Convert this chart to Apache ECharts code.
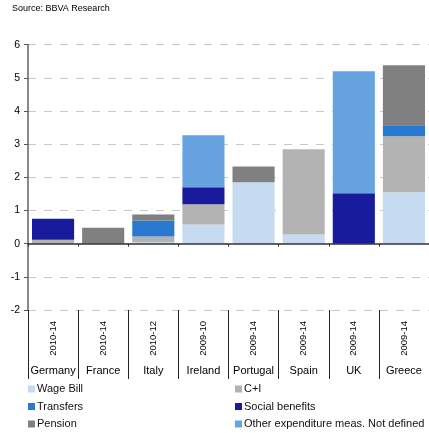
<!DOCTYPE html>
<html>
<head>
<meta charset="utf-8">
<script src="https://cdn.jsdelivr.net/npm/echarts@6/dist/echarts.min.js"></script>
<style>html,body{margin:0;padding:0;background:#fff}#c{width:429px;height:433px}</style>
</head>
<body>
<div id="c"></div>
<script>
var countries = ['Germany','France','Italy','Ireland','Portugal','Spain','UK','Greece'];
var periods = ['2010-14','2010-14','2010-12','2009-10','2009-14','2009-14','2009-14','2009-14'];
var yTicks = [-2,-1,0,1,2,3,4,5,6];
var wageBill = [0, 0, 0.04, 0.58, 1.85, 0.28, 0, 1.55];
var cPlusI = [0.12, 0, 0.18, 0.61, 0, 2.57, 0, 1.69];
var transfers = [0, 0, 0.48, 0, 0, 0, 0, 0.33];
var socialBenefits = [0.63, 0, 0, 0.51, 0, 0, 1.52, 0];
var pension = [0, 0.48, 0.18, 0, 0.48, 0, 0, 1.81];
var otherExp = [0, 0, 0, 1.57, 0, 0, 3.68, 0];

var seriesNames = ['Wage Bill','C+I','Transfers','Social benefits','Pension','Other expenditure meas. Not defined'];
var seriesData = [wageBill, cPlusI, transfers, socialBenefits, pension, otherExp];
var colors = ['#C6DBF1','#B3B3B3','#2979D1','#181C9C','#808080','#66A3E0'];

var font = 'Liberation Sans, Arial, sans-serif';
var chart = echarts.init(document.getElementById('c'), null, {renderer:'canvas'});
var series = seriesNames.map(function(n,i){
  return {name:n, type:'bar', stack:'s', xAxisIndex:0, yAxisIndex:0,
    data: seriesData[i], itemStyle:{color:colors[i]}, barCategoryGap:'16%', z:2};
});
var legendText = {fontSize:11, color:'#111', fontFamily:font, lineHeight:12, padding:[0,0,0,-3]};
chart.setOption({
  animation:false,
  textStyle:{fontFamily:font},
  graphic:[{type:'text', left:12, top:4, style:{text:'Source: BBVA Research', font:'9px '+font, fill:'#000'}}],
  grid:{left:28, right:0, top:44.7, bottom:123, containLabel:false},
  legend:[
    {data:['Wage Bill','Transfers','Pension'], orient:'vertical', left:28, top:383, height:50, padding:0,
     itemWidth:7, itemHeight:7, itemGap:5.5, icon:'rect', textStyle:legendText},
    {data:['C+I','Social benefits','Other expenditure meas. Not defined'], orient:'vertical', left:235, top:383, height:50, padding:0,
     itemWidth:7, itemHeight:7, itemGap:5.5, icon:'rect', textStyle:legendText}
  ],
  xAxis:[
    {type:'category', data:countries, axisLine:{onZero:true, lineStyle:{color:'#333', width:1.5}},
     axisTick:{show:true, length:3, interval:0, lineStyle:{color:'#333'}}, axisLabel:{show:false}, z:5},
    {type:'category', data:periods, position:'bottom', gridIndex:0,
     axisLine:{show:false, onZero:false},
     axisTick:{show:true, length:69, interval:0, lineStyle:{color:'#222', width:1}},
     axisLabel:{show:true, interval:0, rotate:90, margin:11, fontSize:9.5, color:'#000', fontFamily:font}},
    {type:'category', data:countries, position:'bottom', gridIndex:0,
     axisLine:{show:false, onZero:false}, axisTick:{show:false},
     axisLabel:{show:true, interval:0, margin:55, fontSize:11, color:'#000', fontFamily:font}}
  ],
  yAxis:{type:'value', min:yTicks[0], max:yTicks[yTicks.length-1], interval:1,
    axisLine:{show:true, lineStyle:{color:'#888', width:2}},
    axisTick:{show:true, length:4, lineStyle:{color:'#555'}},
    axisLabel:{fontSize:10.5, color:'#000', margin:8, fontFamily:font},
    splitLine:{show:true, lineStyle:{color:'#c8c8c8', type:[8,8], width:1}}},
  series: series
});
</script>
</body>
</html>
